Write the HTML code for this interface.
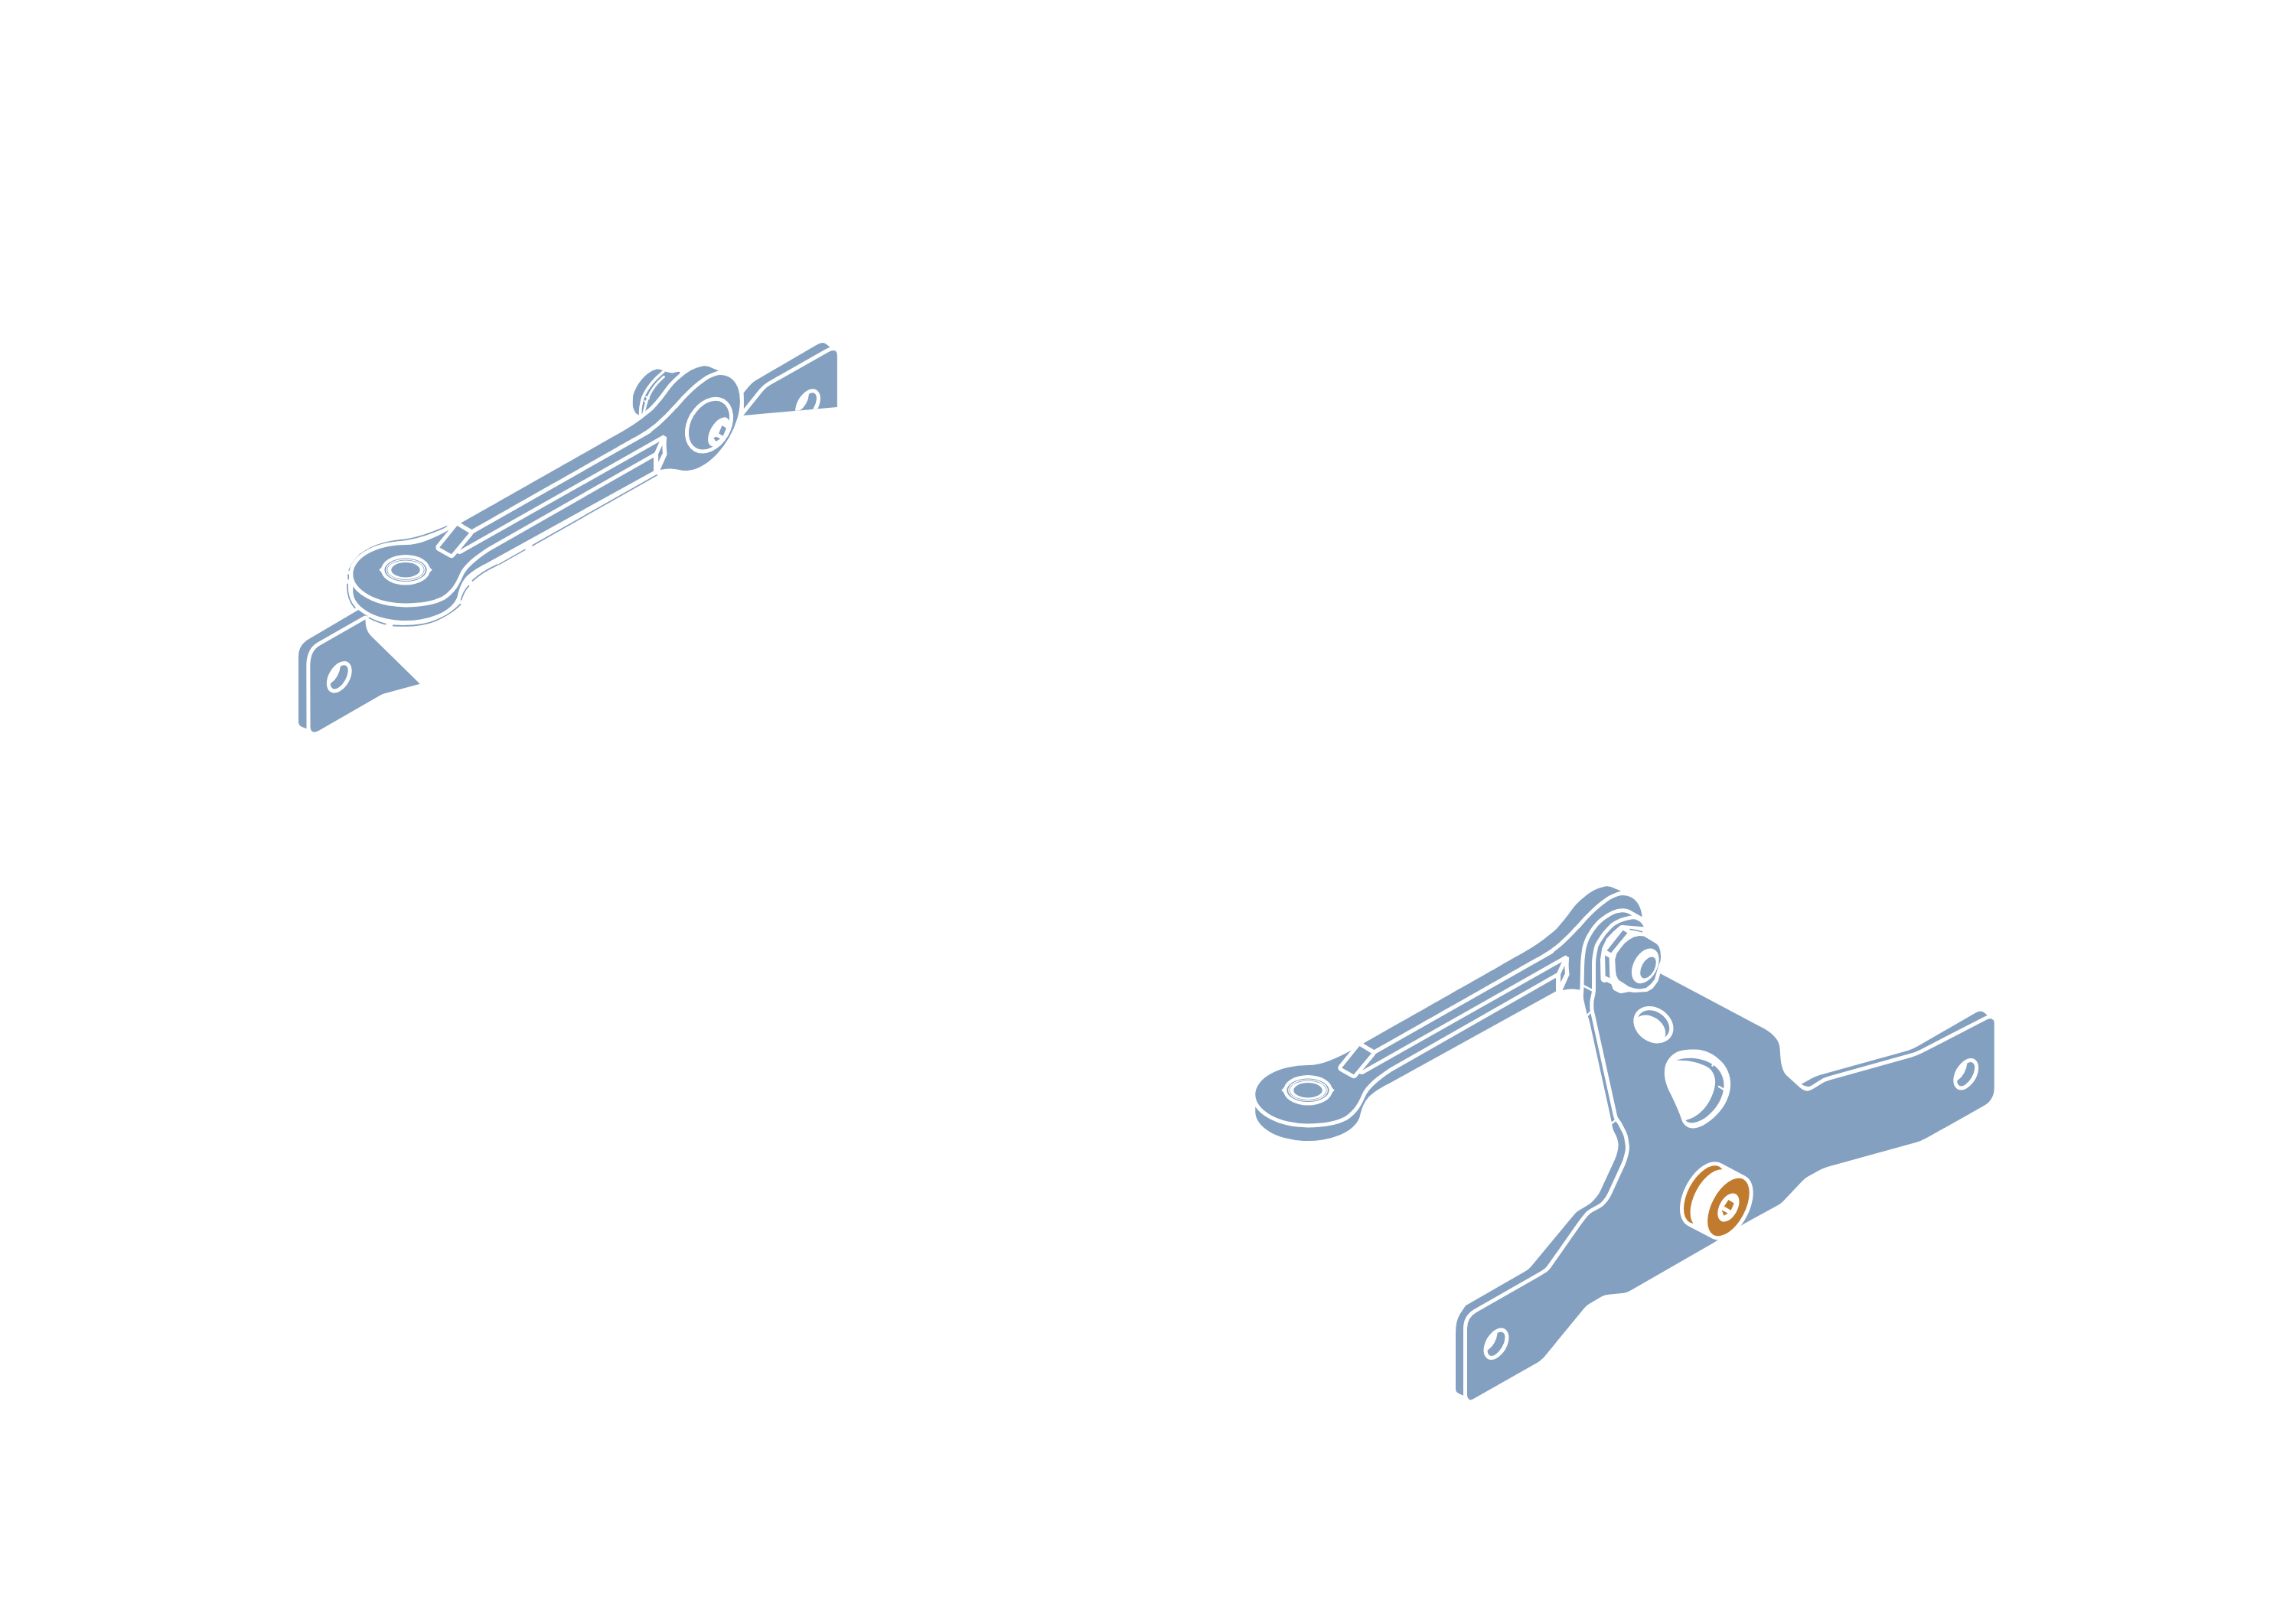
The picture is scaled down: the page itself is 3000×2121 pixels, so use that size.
<!DOCTYPE html>
<html><head><meta charset="utf-8"><style>
html,body{margin:0;padding:0;background:#fff;}
svg{display:block;}
</style></head><body>
<svg width="3000" height="2121" viewBox="0 0 3000 2121">
<rect width="3000" height="2121" fill="#fff"/>
<path d="M 971.5,513.5 L 978.71,504.65 Q 982.5,500 987.68,496.98 L 1065.68,451.52 Q 1070,449 1072.7,448.32 L 1073.3,448.18 Q 1076,447.5 1078.52,449.12 L 1080.48,450.38 Q 1083,452 1084.35,453.8 L 1086,456 L 1000,506 L 972,542 Z" fill="#84a0c0" stroke="#fff" stroke-width="10" stroke-linejoin="round" paint-order="stroke" />
<clipPath id="rbclip"><path d="M 971.25,543.1 L 996.13,511.97 Q 1000.5,506.5 1006.59,503.05 L 1081.78,460.46 Q 1087,457.5 1090.11,458.18 L 1090.8,458.32 Q 1093.9,459 1093.9,465 L 1093.9,531.9 Z"/></clipPath>
<path d="M 971.25,543.1 L 996.13,511.97 Q 1000.5,506.5 1006.59,503.05 L 1081.78,460.46 Q 1087,457.5 1090.11,458.18 L 1090.8,458.32 Q 1093.9,459 1093.9,465 L 1093.9,531.9 Z" fill="#84a0c0" stroke="#fff" stroke-width="10" stroke-linejoin="round" paint-order="stroke" />
<g clip-path="url(#rbclip)">
<mask id="hm1" maskUnits="userSpaceOnUse" x="975.5" y="449" width="160" height="160"><rect x="975.5" y="449" width="160" height="160" fill="#fff"/><ellipse cx="1045.5" cy="523.3" rx="17.3" ry="8.66" transform="rotate(-60 1045.5 523.3)" fill="#000" /></mask>
<ellipse cx="1055.5" cy="529" rx="22.5" ry="13.85" transform="rotate(-60 1055.5 529)" fill="#fff" />
<g mask="url(#hm1)"><ellipse cx="1055.5" cy="529" rx="17.3" ry="8.66" transform="rotate(-60 1055.5 529)" fill="#84a0c0" /></g>
</g>
<path d="M 390,945 L 390,858 Q 390,842.8 403.75,835 L 467.5,797.5 L 480,795 L 482,830 L 405,870 L 405,952.5 Q 397,952 392,948.5 Z" fill="#84a0c0" stroke="#fff" stroke-width="10" stroke-linejoin="round" paint-order="stroke" />
<path d="M 405.3,870 Q 405.3,850.8 417.5,843.75 L 477.5,809.5 C 477.5,818 479,825 485,831.25 L 548.75,893.75 L 502.5,906.25 Q 500,907 497.5,908.2 L 416.25,955 Q 406,960 405.5,950 Z" fill="#84a0c0" stroke="#fff" stroke-width="10" stroke-linejoin="round" paint-order="stroke" />
<g>
<mask id="hm2" maskUnits="userSpaceOnUse" x="363.25" y="804.8" width="160" height="160"><rect x="363.25" y="804.8" width="160" height="160" fill="#fff"/><ellipse cx="433.25" cy="879.1" rx="17.3" ry="8.66" transform="rotate(-60 433.25 879.1)" fill="#000" /></mask>
<ellipse cx="443.25" cy="884.8" rx="22.5" ry="13.85" transform="rotate(-60 443.25 884.8)" fill="#fff" />
<g mask="url(#hm2)"><ellipse cx="443.25" cy="884.8" rx="17.3" ry="8.66" transform="rotate(-60 443.25 884.8)" fill="#84a0c0" /></g>
</g>
<path d="M 836.1,543.2 C 836.1,543.2 832.6,541.42 831.5,540.5 C 830.4,539.58 830.22,539.12 829.5,537.7 C 828.78,536.28 827.65,533.68 827.2,532 C 826.75,530.32 826.83,529.6 826.8,527.6 C 826.77,525.6 826.78,522.27 827,520 C 827.22,517.73 827,516.92 828.1,514 C 829.2,511.08 831.22,506.22 833.6,502.5 C 835.98,498.78 839.58,494.52 842.4,491.7 C 845.22,488.88 848.4,486.97 850.5,485.6 C 852.6,484.23 853.53,484.02 855,483.5 C 856.47,482.98 857.68,482.48 859.3,482.5 C 860.92,482.52 863.12,483.08 864.7,483.6 C 866.28,484.12 866.58,484.97 868.8,485.6 C 871.02,486.23 874.73,487.12 878,487.4 C 881.27,487.68 888.07,483.53 888.4,487.3 C 888.73,491.07 880,510 880,510 C 880,510 860,535 860,535 C 860,535 845,546 845,546 C 845,546 836.1,543.2 836.1,543.2 Z" fill="#84a0c0" stroke="#fff" stroke-width="10" stroke-linejoin="round" paint-order="stroke" />
<path d="M 866.7,485.9 C 866.7,485.9 859.87,491.65 856.6,495.1 C 853.33,498.55 849.82,502.65 847.1,506.6 C 844.38,510.55 841.93,514.73 840.3,518.8 C 838.67,522.87 837.92,527.05 837.3,531 C 836.68,534.95 836.6,542.5 836.6,542.5 " fill="none" stroke="#fff" stroke-width="3.7" stroke-linejoin="round" stroke-linecap="round" />
<path d="M 867.4,492.4 C 867.4,492.4 860.83,498.3 857.9,501.8 C 854.97,505.3 851.93,509.67 849.8,513.4 C 847.67,517.13 846.33,520.7 845.1,524.2 C 843.87,527.7 843.08,531.85 842.4,534.4 C 841.72,536.95 841,539.5 841,539.5 " fill="none" stroke="#fff" stroke-width="3" stroke-linejoin="round" stroke-linecap="round" />
<path d="M 844.2,518.6 L 848,520.7 M 842.3,524.2 L 845.3,526.3" fill="none" stroke="#fff" stroke-width="2.2" stroke-linejoin="round" stroke-linecap="round" />
<path d="M 456.25,745 C 462,732 470,724 477.5,720 C 490,712 505,708 521.25,706.25 C 545,704 565,696 583.75,688.1" fill="none" stroke="#84a0c0" stroke-width="1.8" stroke-linejoin="round" stroke-linecap="round" />
<path d="M 455,751.25 L 455.3,756.5 M 453.9,763.5 C 453.6,772 455.5,785 463.75,794.4" fill="none" stroke="#84a0c0" stroke-width="1.8" stroke-linejoin="round" stroke-linecap="round" />
<path d="M 482.5,807.5 C 489,811 496,813.5 503.75,815.6 M 513.75,817.5 C 522,818 531,818 540,817.5 C 555,816.5 568,812.5 578.5,806.5 C 589.5,800.5 596.5,795 601.5,789.8" fill="none" stroke="#84a0c0" stroke-width="1.8" stroke-linejoin="round" stroke-linecap="round" />
<path d="M 602.5,783.75 C 605,776 608,770 612.5,765.6 M 617.5,758.75 C 626,751 637,744 650,738.1" fill="none" stroke="#84a0c0" stroke-width="1.8" stroke-linejoin="round" stroke-linecap="round" />
<path d="M 696,712.72 L 858,620.95" fill="none" stroke="#84a0c0" stroke-width="1.8" stroke-linejoin="round" stroke-linecap="round" />
<path d="M 652,737.65 L 686,718.39" fill="none" stroke="#84a0c0" stroke-width="1.6" stroke-linejoin="round" stroke-linecap="round" />
<g id="armTL"><path d="M 461.25,750 L 461.25,774 A 68.75 38.15 0 0 0 597.5,780 C 599.5,771 602,762 609,754 C 615,748 622,743 635,736.5 L 854,615.52 L 854,597 L 854,585.06 L 600,728.95 L 530,750 Z" fill="#84a0c0" stroke="#fff" stroke-width="10" stroke-linejoin="round" paint-order="stroke" />
<path d="M 461.25,750.25 A 68.75 38.15 0 0 1 530,712.1 C 548,712 568,703 586.25,692.75 L 598,686 L 620,700.38 L 862.1,563.24 L 862.1,576.5 L 855.7,591.2 L 637,715.81 C 620,727 606,738 600.5,750.5 C 596,761 591,771 578,779.5 C 566,785.5 550,788.4 530,788.4 A 68.75 38.15 0 0 1 461.25,750.25 Z" fill="#84a0c0" stroke="#fff" stroke-width="10" stroke-linejoin="round" paint-order="stroke" />
<polygon points="860.1,593.2 865.5,581.4 865.8,592.2 860.1,604" fill="#84a0c0" stroke="#fff" stroke-width="10" stroke-linejoin="round" paint-order="stroke" />
<ellipse cx="918.75" cy="552.5" rx="68.6" ry="39" transform="rotate(-60 918.75 552.5)" fill="none" stroke="#fff" stroke-width="10" />
<polygon points="618.84,696.74 850,565.72 880,530 918.75,552.5 871.5,594 871.5,571.5 866.5,568.6 600.5,719.01" fill="none" stroke="#fff" stroke-width="10" stroke-linejoin="round"/>
<polygon points="871.5,594 862.6,614 870,612.8 877,612.5 885,613.5 890,614.4 897.5,615 918.75,552.5" fill="none" stroke="#fff" stroke-width="10" stroke-linejoin="round"/>
<ellipse cx="918.75" cy="552.5" rx="68.6" ry="39" transform="rotate(-60 918.75 552.5)" fill="#84a0c0" />
<polygon points="618.84,696.74 850,565.72 880,530 918.75,552.5 871.5,594 871.5,571.5 866.5,568.6 600.5,719.01" fill="#84a0c0"/>
<polygon points="871.5,594 862.6,614 870,612.8 877,612.5 885,613.5 890,614.4 897.5,615 918.75,552.5" fill="#84a0c0"/>
<path d="M 602.3,683.66 C 602.3,683.66 743.38,603.58 780,582.74 C 816.62,561.89 810.82,565.64 822,558.6 C 833.18,551.56 841.22,545.1 847.1,540.5 C 852.98,535.9 853.92,534.62 857.3,531 C 860.68,527.38 864.02,523.1 867.4,518.8 C 870.78,514.5 874.22,509.15 877.6,505.2 C 880.98,501.25 884.32,498.15 887.7,495.1 C 891.08,492.05 894.5,489.17 897.9,486.9 C 901.3,484.63 904.72,482.9 908.1,481.5 C 911.48,480.1 915.38,478.95 918.2,478.5 C 921.02,478.05 922.73,478.3 925,478.8 C 927.27,479.3 929.51,480.57 931.8,481.5 C 934.09,482.43 938.75,484.4 938.75,484.4 C 938.75,484.4 934.66,485.68 931.8,486.9 C 928.94,488.12 924.98,489.67 921.6,491.7 C 918.22,493.73 914.88,496.4 911.5,499.1 C 908.12,501.8 904.7,504.73 901.3,507.9 C 897.9,511.07 893.92,515.15 891.1,518.1 C 888.28,521.05 887.22,522.55 884.4,525.6 C 881.58,528.65 877.6,532.9 874.2,536.4 C 870.8,539.9 867.38,543.4 864,546.6 C 860.62,549.8 858.23,552.28 853.9,555.6 C 849.57,558.92 846.98,561.13 838,566.54 C 829.02,571.96 836.89,567.15 800,588.07 C 763.11,608.99 616.66,692.07 616.66,692.07 C 616.66,692.07 602.3,683.66 602.3,683.66 Z" fill="#84a0c0" stroke="#fff" stroke-width="10" stroke-linejoin="round" paint-order="stroke" />
<polygon points="597.36,687.09 612.93,696.43 589.89,724.13 574.32,715.42" fill="#84a0c0" stroke="#fff" stroke-width="10" stroke-linejoin="round" paint-order="stroke" />
<ellipse cx="530" cy="744.8" rx="31.9" ry="19.8" transform="rotate(0 530 744.8)" fill="#fff" />
<polygon points="495.3,744.8 499.5,740.6 501,744.8 499.5,749" fill="#fff"/>
<polygon points="564.7,744.8 560.5,740.6 559,744.8 560.5,749" fill="#fff"/>
<ellipse cx="530" cy="744.8" rx="27.6" ry="15.3" transform="rotate(0 530 744.8)" fill="#84a0c0" />
<ellipse cx="530" cy="744.8" rx="25.2" ry="13.6" transform="rotate(0 530 744.8)" fill="none" stroke="#fff" stroke-width="1.3" />
<ellipse cx="530" cy="744.75" rx="23.75" ry="12.2" transform="rotate(0 530 744.75)" fill="#fff" />
<ellipse cx="530" cy="744.75" rx="18.75" ry="9.7" transform="rotate(0 530 744.75)" fill="#84a0c0" /></g>
<ellipse cx="926.5" cy="555.6" rx="39.3" ry="28.5" transform="rotate(-60 926.5 555.6)" fill="#fff" />
<ellipse cx="926.5" cy="555.6" rx="34.3" ry="23.5" transform="rotate(-60 926.5 555.6)" fill="#84a0c0" />
<ellipse cx="939.4" cy="564.4" rx="21.1" ry="11.15" transform="rotate(-60 939.4 564.4)" fill="#fff" />
<polygon points="943.4,556 949,559.4 944.8,569.8 939.2,566.6" fill="#84a0c0"/>
<polygon points="932.3,572.2 936,570.8 941.2,573.2 935.5,576.9" fill="#84a0c0"/>
<use href="#armTL" transform="translate(1179,680)"/>
<path d="M 2354.43,1418.03 Q 2352.5,1417.5 2354.24,1416.52 L 2367.27,1409.19 Q 2372.5,1406.25 2378.28,1404.65 L 2491.04,1373.39 Q 2498.75,1371.25 2505.68,1367.25 L 2581.54,1323.5 Q 2585,1321.5 2587.25,1321.5 L 2587.75,1321.5 Q 2590,1321.5 2592.25,1323.08 L 2592.75,1323.42 Q 2595,1325 2596.92,1327.3 L 2600,1331 L 2560,1370 L 2380,1425 Z" fill="#84a0c0" stroke="#fff" stroke-width="10" stroke-linejoin="round" paint-order="stroke" />
<path d="M 1913.21,1823.36 Q 1911.25,1823.75 1909.47,1822.84 L 1905.56,1820.83 Q 1902,1819 1902,1815 L 1902,1742 Q 1902,1726 1907.85,1717.11 L 1915,1706.25 L 1993.17,1661.24 Q 1997.5,1658.75 2000.7,1654.91 L 2049.16,1596.61 Q 2053,1592 2056.11,1588.27 L 2057.98,1586.01 Q 2059.9,1583.7 2062.47,1582.16 L 2075.31,1574.47 Q 2079.6,1571.9 2082.79,1568.05 L 2086.21,1563.95 Q 2089.4,1560.1 2091.49,1555.56 L 2109.59,1516.25 Q 2112.1,1510.8 2113.37,1504.94 L 2114.04,1501.89 Q 2115.1,1497 2114.2,1492.55 L 2113.89,1491.02 Q 2113.1,1487.1 2111.31,1483.52 L 2108.54,1477.98 Q 2107.2,1475.3 2106.7,1472.34 L 2105.7,1466.36 Q 2105.2,1463.4 2104.56,1460.47 L 2077.24,1336.23 Q 2076.6,1333.3 2075.57,1330.48 L 2074.39,1327.28 Q 2073.7,1325.4 2073.21,1323.46 L 2072.19,1319.44 Q 2071.7,1317.5 2071.28,1315.55 L 2069.34,1306.63 Q 2068.7,1303.7 2068.87,1300.71 L 2069.38,1292 Q 2069.5,1290 2069.54,1288 L 2070.12,1262 Q 2070.3,1254 2071.29,1246.8 L 2071.96,1241.96 Q 2072.5,1238 2073.87,1234.24 L 2075.13,1230.76 Q 2076.5,1227 2078.53,1223.56 L 2080.97,1219.44 Q 2083,1216 2085.54,1212.91 L 2087.46,1210.59 Q 2090,1207.5 2093.04,1204.9 L 2094.72,1203.45 Q 2097,1201.5 2099.55,1199.92 L 2102.05,1198.38 Q 2104.6,1196.8 2107.32,1195.53 L 2108.28,1195.07 Q 2111,1193.8 2113.92,1193.09 L 2114.68,1192.91 Q 2117.6,1192.2 2120.03,1192.2 L 2120.57,1192.2 Q 2123,1192.2 2125.25,1193.01 L 2128,1194 L 2143.96,1203.02 Q 2145.7,1204 2146.44,1205.86 L 2149.4,1213.3 L 2150,1240 L 2110,1300 L 2090,1310 L 2088,1326 L 2120,1466 L 2130,1483 L 2134,1505 L 2129,1523 L 2108,1569 L 2095,1589 L 2079,1598 L 2025,1663 L 2016,1669 L 1932,1717 L 1927,1721 L 1921,1731 L 1920,1740 L 1920,1822 Z" fill="#84a0c0" stroke="#fff" stroke-width="10" stroke-linejoin="round" paint-order="stroke" />
<path d="M 2085,1260 Q 2085,1254 2086.11,1248.1 L 2087.56,1240.43 Q 2088.3,1236.5 2090.44,1233.12 L 2095.36,1225.38 Q 2097.5,1222 2100.2,1219.05 L 2105.5,1213.25 Q 2108.2,1210.3 2111.7,1208.37 L 2113.37,1207.45 Q 2116,1206 2118.25,1205.1 L 2118.75,1204.9 Q 2121,1204 2123.9,1203.23 L 2124.9,1202.97 Q 2127.8,1202.2 2130.55,1201.66 L 2131.16,1201.54 Q 2133.9,1201 2136.69,1201.54 L 2137.31,1201.66 Q 2140.1,1202.2 2142.3,1204.13 L 2142.8,1204.57 Q 2145,1206.5 2146.63,1209.02 L 2147.07,1209.68 Q 2148.7,1212.2 2149.45,1215.11 L 2152,1225 L 2167.5,1271.25 L 2304.17,1343.81 Q 2313,1348.5 2318.4,1354.58 L 2319.69,1356.02 Q 2325,1362 2325.57,1369.98 L 2326.57,1384.02 Q 2327,1390 2328.91,1395.62 L 2329.96,1398.71 Q 2331.25,1402.5 2334.19,1405.21 L 2350.33,1420.11 Q 2354,1423.5 2357.26,1424.74 L 2357.99,1425.01 Q 2361.25,1426.25 2364.51,1425.01 L 2365.24,1424.74 Q 2368.5,1423.5 2371.87,1421.35 L 2379.94,1416.22 Q 2385,1413 2390.78,1411.39 L 2497.29,1381.65 Q 2505,1379.5 2512.11,1375.83 L 2596.45,1332.33 Q 2600,1330.5 2602.59,1331.62 L 2603.16,1331.88 Q 2605.75,1333 2605.75,1336 L 2605.75,1421.4 Q 2605.75,1437.4 2591.8,1445.24 L 2516.97,1487.33 Q 2510,1491.25 2502.29,1493.37 L 2388.29,1524.66 Q 2382.5,1526.25 2377.27,1529.19 L 2362.36,1537.55 Q 2358,1540 2354.58,1543.65 L 2330.24,1569.58 Q 2327.5,1572.5 2324,1574.43 L 2277.5,1600 L 2237.5,1625 L 2131.35,1686.01 Q 2128.75,1687.5 2126.5,1688.4 L 2125.61,1688.76 Q 2123.75,1689.5 2121.76,1689.7 L 2101.74,1691.7 Q 2098.75,1692 2096.5,1692.79 L 2096,1692.96 Q 2093.75,1693.75 2091.17,1695.28 L 2076.44,1703.97 Q 2073,1706 2070.46,1709.09 L 2018.79,1771.91 Q 2016.25,1775 2013.44,1777.25 L 2012.34,1778.13 Q 2010,1780 2007.39,1781.48 L 1925.35,1828.03 Q 1921,1830.5 1919.2,1828.47 L 1918.8,1828.03 Q 1917,1826 1917,1823 L 1917,1736 Q 1917,1722 1929.16,1715.05 L 2011.53,1667.98 Q 2015,1666 2018.36,1663.83 L 2020.14,1662.67 Q 2023.5,1660.5 2025.8,1657.23 L 2064.92,1601.59 Q 2067.8,1597.5 2070.92,1593.6 L 2074.5,1589.12 Q 2077,1586 2080.51,1584.07 L 2090.82,1578.41 Q 2095.2,1576 2098.3,1572.08 L 2100.4,1569.42 Q 2103.5,1565.5 2105.58,1560.95 L 2123,1522.95 Q 2125.5,1517.5 2126.91,1511.67 L 2128.09,1506.83 Q 2129.5,1501 2128.57,1495.07 L 2127.37,1487.44 Q 2126.6,1482.5 2124.3,1478.06 L 2119.18,1468.16 Q 2117.8,1465.5 2115.91,1463.25 L 2115.49,1462.75 Q 2113.6,1460.5 2112.95,1457.57 L 2084.85,1329.93 Q 2084.2,1327 2083.51,1324.08 L 2082.99,1321.92 Q 2082.3,1319 2082.3,1316 L 2082.3,1312 Q 2082.3,1309 2082.91,1306.06 L 2084.39,1298.94 Q 2085,1296 2085,1293 Z" fill="#84a0c0" stroke="#fff" stroke-width="10" stroke-linejoin="round" paint-order="stroke" />
<path d="M 2073.2,1327.8 L 2079.8,1321 M 2105.8,1468 L 2113.4,1462 M 2068.5,1288 L 2080,1294" fill="none" stroke="#fff" stroke-width="2.6" stroke-linejoin="round" stroke-linecap="round" />
<g>
<mask id="hm3" maskUnits="userSpaceOnUse" x="1875" y="1676.25" width="160" height="160"><rect x="1875" y="1676.25" width="160" height="160" fill="#fff"/><ellipse cx="1945" cy="1750.55" rx="17.3" ry="8.66" transform="rotate(-60 1945 1750.55)" fill="#000" /></mask>
<ellipse cx="1955" cy="1756.25" rx="22.5" ry="13.85" transform="rotate(-60 1955 1756.25)" fill="#fff" />
<g mask="url(#hm3)"><ellipse cx="1955" cy="1756.25" rx="17.3" ry="8.66" transform="rotate(-60 1955 1756.25)" fill="#84a0c0" /></g>
</g>
<g>
<mask id="hm4" maskUnits="userSpaceOnUse" x="2488.75" y="1323.75" width="160" height="160"><rect x="2488.75" y="1323.75" width="160" height="160" fill="#fff"/><ellipse cx="2558.75" cy="1398.05" rx="17.3" ry="8.66" transform="rotate(-60 2558.75 1398.05)" fill="#000" /></mask>
<ellipse cx="2568.75" cy="1403.75" rx="22.5" ry="13.85" transform="rotate(-60 2568.75 1403.75)" fill="#fff" />
<g mask="url(#hm4)"><ellipse cx="2568.75" cy="1403.75" rx="17.3" ry="8.66" transform="rotate(-60 2568.75 1403.75)" fill="#84a0c0" /></g>
</g>
<g>
<mask id="hm5" maskUnits="userSpaceOnUse" x="2080.4" y="1259.15" width="160" height="160"><rect x="2080.4" y="1259.15" width="160" height="160" fill="#fff"/><ellipse cx="2155.4" cy="1345.45" rx="22.5" ry="17" transform="rotate(35 2155.4 1345.45)" fill="#000" /></mask>
<ellipse cx="2160.4" cy="1339.15" rx="27.8" ry="22.3" transform="rotate(35 2160.4 1339.15)" fill="#fff" />
<g mask="url(#hm5)"><ellipse cx="2160.4" cy="1339.15" rx="22.5" ry="17" transform="rotate(35 2160.4 1339.15)" fill="#84a0c0" /></g>
</g>
<path d="M 2212.5,1371.5 C 2226,1370.5 2240,1377 2250,1388 C 2259,1398 2262,1410 2261,1421 C 2259.5,1436 2251,1450 2240,1460 C 2230,1469 2220,1474.5 2212,1474.5 C 2205,1474.5 2200,1470 2197.5,1464 C 2194,1453 2189,1442 2182,1428 C 2177,1418 2174,1408 2175,1398 C 2176,1387 2183,1378 2193,1374 C 2199,1372 2206,1371.5 2212.5,1371.5 Z" fill="#fff"/>
<path d="M 2190,1386 C 2203,1381 2222,1381.5 2238,1391 L 2241,1393.5 C 2249,1400 2253,1410 2252.5,1420 C 2251.5,1433 2245,1445 2236,1454 C 2228,1462 2219,1467 2211,1467.5 C 2207,1467.5 2204,1466 2202.5,1464 C 2215,1461 2226,1452 2233,1440 C 2238,1431 2242,1420 2241,1411 C 2240,1404 2237,1398.5 2232,1395 C 2220,1388 2203,1385 2190,1386 Z" fill="#84a0c0"/>
<path d="M 2237.5,1392.5 L 2244,1385" fill="none" stroke="#fff" stroke-width="2.6" stroke-linejoin="round" stroke-linecap="round" />
<path d="M 2246,1420 L 2256,1426" fill="none" stroke="#fff" stroke-width="2.6" stroke-linejoin="round" stroke-linecap="round" />
<polygon points="2096.5,1279 2096,1254 2098,1241 2103.5,1229.5 2112,1220.5 2119.5,1214 2149.6,1216.5 2158,1224 2166,1232 2170.5,1245 2170.1,1252 2167.2,1261.3 2162,1280 2156,1288 2151,1291 2136,1292 2128,1291 2118,1293 2112,1290 2109.5,1283 2105,1280.5 2096.5,1276" fill="#fff" stroke="#fff" stroke-width="10" stroke-linejoin="round"/>
<polygon points="2099.6,1242.3 2120.6,1215.8 2126.4,1219.2 2105.1,1245.3" fill="#84a0c0" stroke="#fff" stroke-width="0" stroke-linejoin="round" paint-order="stroke" />
<polygon points="2097.1,1248.5 2102.6,1251.5 2103.4,1278.2 2097.6,1275.2" fill="#84a0c0" stroke="#fff" stroke-width="0" stroke-linejoin="round" paint-order="stroke" />
<path d="M 2130,1214.5 Q 2138,1215.5 2145.5,1217.8" fill="none" stroke="#84a0c0" stroke-width="1.6" stroke-linejoin="round" stroke-linecap="round" />
<polygon points="2111,1268.7 2110.2,1253.9 2112.5,1246 2117.6,1239.1 2122.5,1233 2128.7,1228.1 2135,1224.5 2142,1222.9 2148,1223.6 2164.2,1233.2 2167.5,1237 2169.4,1242.8 2170.1,1250.2 2169.5,1256 2167.2,1261.3 2162,1279.8 2157,1286 2150.9,1290.9 2143,1292.5 2136.1,1291.7 2128.7,1289.4 2114.7,1280.6 2112,1275" fill="#84a0c0" stroke="#fff" stroke-width="0" stroke-linejoin="round" paint-order="stroke" />
<ellipse cx="2149.8" cy="1262.3" rx="24.5" ry="15.5" transform="rotate(-62 2149.8 1262.3)" fill="#fff" />
<ellipse cx="2153.5" cy="1264.5" rx="15.2" ry="8.4" transform="rotate(-62 2153.5 1264.5)" fill="#84a0c0" />
<polygon points="2200.02,1580.16 2200.05,1577.84 2200.22,1575.43 2200.53,1572.96 2200.96,1570.43 2201.52,1567.85 2202.21,1565.24 2203.02,1562.61 2203.94,1559.97 2204.99,1557.34 2206.14,1554.72 2207.39,1552.14 2208.74,1549.6 2210.18,1547.12 2211.7,1544.7 2213.3,1542.37 2214.97,1540.13 2216.7,1537.98 2218.48,1535.95 2220.3,1534.05 2222.16,1532.27 2224.04,1530.64 2225.94,1529.15 2227.84,1527.82 2229.74,1526.65 2231.63,1525.65 2233.5,1524.83 2235.34,1524.18 2237.14,1523.7 2238.89,1523.42 2240.59,1523.31 2242.22,1523.39 2243.78,1523.65 2245.25,1524.1 2246.64,1524.72 2277.74,1541.12 2279.04,1541.93 2280.23,1542.9 2281.32,1544.05 2282.3,1545.35 2283.16,1546.82 2283.9,1548.43 2284.51,1550.19 2285,1552.07 2285.36,1554.09 2285.59,1556.21 2285.68,1558.44 2285.65,1560.76 2285.48,1563.17 2285.17,1565.64 2284.74,1568.17 2284.18,1570.75 2283.49,1573.36 2282.68,1575.99 2281.76,1578.63 2280.71,1581.26 2279.56,1583.88 2278.31,1586.46 2276.96,1589 2275.52,1591.48 2274,1593.9 2272.4,1596.23 2270.73,1598.47 2269,1600.62 2267.22,1602.65 2265.4,1604.55 2263.54,1606.33 2261.66,1607.96 2259.76,1609.45 2257.86,1610.78 2255.96,1611.95 2254.07,1612.95 2252.2,1613.77 2250.36,1614.42 2248.56,1614.9 2246.81,1615.18 2245.11,1615.29 2243.48,1615.21 2241.92,1614.95 2240.45,1614.5 2239.06,1613.88 2207.96,1597.48 2206.66,1596.67 2205.47,1595.7 2204.38,1594.55 2203.4,1593.25 2202.54,1591.78 2201.8,1590.17 2201.19,1588.41 2200.7,1586.53 2200.34,1584.51 2200.11,1582.39" fill="#fff" stroke="#fff" stroke-width="10" stroke-linejoin="round"/>
<mask id="spm" maskUnits="userSpaceOnUse" x="2100" y="1450" width="300" height="250"><rect x="2100" y="1450" width="300" height="250" fill="#fff"/><ellipse cx="2235.8" cy="1566" rx="41.2" ry="21.8" transform="rotate(-62 2235.8 1566)" fill="#000" /></mask>
<g mask="url(#spm)"><ellipse cx="2227.3" cy="1561.1" rx="41.2" ry="21.8" transform="rotate(-62 2227.3 1561.1)" fill="#c17b2e" /></g>
<ellipse cx="2258.4" cy="1577.5" rx="41.2" ry="21.8" transform="rotate(-62 2258.4 1577.5)" fill="#c17b2e" />
<ellipse cx="2258.4" cy="1578" rx="20.1" ry="11.9" transform="rotate(-62 2258.4 1578)" fill="#fff" />
<polygon points="2258.4,1568 2265.8,1572.5 2261.7,1581.7 2252.8,1576.5" fill="#c17b2e"/>
<polygon points="2249.5,1581.3 2257.6,1585.4 2252.5,1588.7" fill="#c17b2e"/>
</svg>
</body></html>
